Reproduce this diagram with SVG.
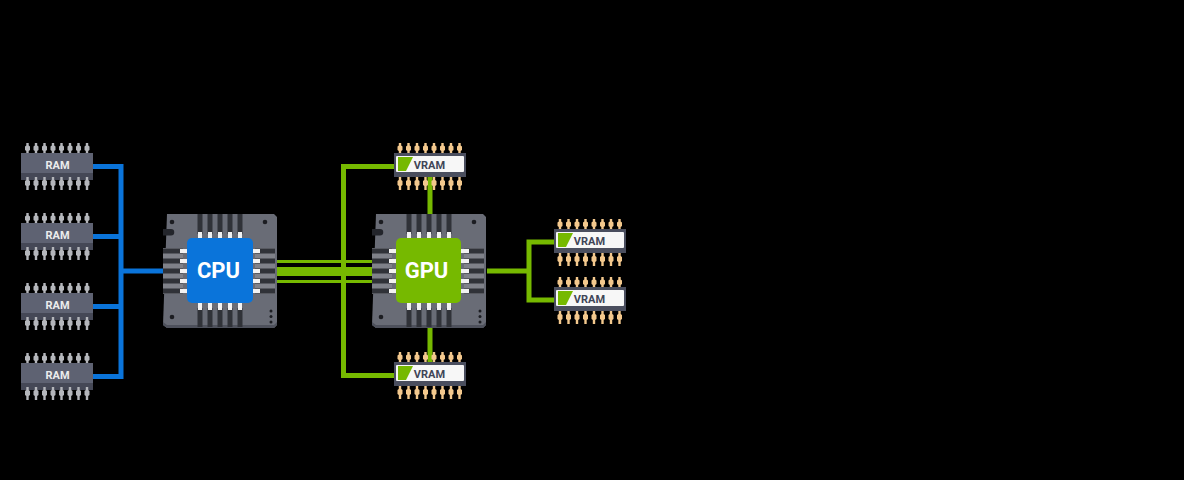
<svg xmlns="http://www.w3.org/2000/svg" width="1184" height="480" viewBox="0 0 1184 480">
  <style>
    .label { font-family: "Roboto", "Noto Sans", "Liberation Sans", sans-serif; text-anchor: middle; font-weight: 700; }
    .ram-label { font-size: 11px; fill: #eceded; }
    .vram-label { font-size: 11px; fill: #3f4557; }
    .chip-label { font-size: 22px; fill: #ffffff; }
    .blue { stroke: #0a74da; fill: none; stroke-width: 5; }
    .green { stroke: #76b900; fill: none; stroke-width: 5; }
    .trace { fill: #303238; }
    .pad { fill: #f2f2f2; }
    .strip { fill: #7f8189; }
  </style>
  <defs>
    <path id="pin-top" d="M-1.200 0h2.400v2.500l1.300 1v3.500l-1.300 1v2h-2.400v-2l-1.300-1v-3.500l1.300-1z"/>
    <path id="pin-bottom" d="M-1.200 0h2.400v3l1.300 1v4l-1.300 1v4h-2.400v-4l-1.300-1v-4l1.300-1z"/>
    <g id="pins-upper">
      <use href="#pin-top" x="0"/><use href="#pin-top" x="8.500"/><use href="#pin-top" x="17"/><use href="#pin-top" x="25.500"/>
      <use href="#pin-top" x="34"/><use href="#pin-top" x="42.500"/><use href="#pin-top" x="51"/><use href="#pin-top" x="59.500"/>
    </g>
    <g id="pins-lower">
      <use href="#pin-bottom" x="0"/><use href="#pin-bottom" x="8.500"/><use href="#pin-bottom" x="17"/><use href="#pin-bottom" x="25.500"/>
      <use href="#pin-bottom" x="34"/><use href="#pin-bottom" x="42.500"/><use href="#pin-bottom" x="51"/><use href="#pin-bottom" x="59.500"/>
    </g>

    <!-- Memory packages: origin at the top-left corner of the body -->
    <g id="ram">
      <use href="#pins-upper" x="6.500" y="-10" fill="#b4b6bb"/>
      <rect x="0" y="0" width="72" height="27" fill="#5e6272"/>
      <rect x="0" y="20" width="72" height="7" fill="#454856"/>
      <use href="#pins-lower" x="6.500" y="24" fill="#b4b6bb"/>
    </g>
    <g id="vram">
      <use href="#pins-upper" x="6" y="-10" fill="#f3c88d"/>
      <rect x="0" y="0" width="72" height="24" fill="#4a4e5e"/>
      <rect x="2" y="3" width="68" height="16" rx="1" fill="#f7f7f7"/>
      <path d="M4 4h15l-7 14h-8z" fill="#76b900"/>
      <use href="#pins-lower" x="6" y="24" fill="#f3c88d"/>
    </g>

    <!-- Processor carrier with traces, pads and mounting holes; origin at board top-left -->
    <g id="carrier">
      <path d="M4 0h107l3 3v108l-3 3h-107l-4-3z" fill="#696c76"/>
      <path d="M0 111v-3l4 3h107l3-3v3l-3 3h-107z" fill="#4e515c"/>
      <path d="M0 15h8a3 3 0 0 1 0 6.500h-8z" fill="#23252b"/>
      <circle cx="9" cy="8" r="2.300" fill="#1c1d22"/>
      <circle cx="102" cy="8" r="2.300" fill="#1c1d22"/>
      <circle cx="9" cy="103" r="2.300" fill="#1c1d22"/>
      <circle cx="108" cy="97" r="1.500" fill="#1c1d22"/>
      <circle cx="108" cy="102.500" r="1.500" fill="#1c1d22"/>
      <circle cx="108" cy="108" r="1.500" fill="#1c1d22"/>
      <rect class="strip" x="0" y="34" width="20" height="46"/>
      <rect class="strip" x="92" y="34" width="20" height="46"/>
      <rect class="trace" x="34.500" y="0" width="5" height="20"/><rect class="trace" x="44.500" y="0" width="5" height="20"/><rect class="trace" x="54.500" y="0" width="5" height="20"/><rect class="trace" x="64.500" y="0" width="5" height="20"/><rect class="trace" x="74.500" y="0" width="5" height="20"/>
      <rect class="trace" x="34.500" y="94" width="5" height="19"/><rect class="trace" x="44.500" y="94" width="5" height="19"/><rect class="trace" x="54.500" y="94" width="5" height="19"/><rect class="trace" x="64.500" y="94" width="5" height="19"/><rect class="trace" x="74.500" y="94" width="5" height="19"/>
      <rect class="trace" x="0" y="34.500" width="20" height="5"/><rect class="trace" x="0" y="44.500" width="20" height="5"/><rect class="trace" x="0" y="54.500" width="20" height="5"/><rect class="trace" x="0" y="64.500" width="20" height="5"/><rect class="trace" x="0" y="74.500" width="20" height="5"/>
      <rect class="trace" x="92" y="34.500" width="20" height="5"/><rect class="trace" x="92" y="44.500" width="20" height="5"/><rect class="trace" x="92" y="54.500" width="20" height="5"/><rect class="trace" x="92" y="64.500" width="20" height="5"/><rect class="trace" x="92" y="74.500" width="20" height="5"/>
      <rect class="pad" x="35" y="18" width="4" height="8"/><rect class="pad" x="45" y="18" width="4" height="8"/><rect class="pad" x="55" y="18" width="4" height="8"/><rect class="pad" x="65" y="18" width="4" height="8"/><rect class="pad" x="75" y="18" width="4" height="8"/>
      <rect class="pad" x="35" y="88" width="4" height="8"/><rect class="pad" x="45" y="88" width="4" height="8"/><rect class="pad" x="55" y="88" width="4" height="8"/><rect class="pad" x="65" y="88" width="4" height="8"/><rect class="pad" x="75" y="88" width="4" height="8"/>
      <rect class="pad" x="17" y="35" width="8" height="4"/><rect class="pad" x="17" y="45" width="8" height="4"/><rect class="pad" x="17" y="55" width="8" height="4"/><rect class="pad" x="17" y="65" width="8" height="4"/><rect class="pad" x="17" y="75" width="8" height="4"/>
      <rect class="pad" x="89" y="35" width="8" height="4"/><rect class="pad" x="89" y="45" width="8" height="4"/><rect class="pad" x="89" y="55" width="8" height="4"/><rect class="pad" x="89" y="65" width="8" height="4"/><rect class="pad" x="89" y="75" width="8" height="4"/>
    </g>
  </defs>

  <rect width="1184" height="480" fill="#000000"/>

  <g id="connectors">
    <path class="blue" d="M93 166.500H121V376.500H93M93 236.500H121M93 306.500H121M121 271H163"/>
    <path class="green" d="M394 166.500H343.500V375.500H394"/>
    <path class="green" d="M430 177V214M430 328V365"/>
    <path class="green" d="M487 271H529M555 242H529V300H555"/>
    <g fill="#76b900">
      <rect x="277" y="260" width="64" height="3"/>
      <rect x="346" y="260" width="26" height="3"/>
      <rect x="277" y="267" width="95" height="9"/>
      <rect x="277" y="280" width="64" height="3"/>
      <rect x="346" y="280" width="26" height="3"/>
    </g>
  </g>

  <g id="ram-1"><use href="#ram" x="21" y="153"/><text class="label ram-label" x="57.500" y="169">RAM</text></g>
  <g id="ram-2"><use href="#ram" x="21" y="223"/><text class="label ram-label" x="57.500" y="239">RAM</text></g>
  <g id="ram-3"><use href="#ram" x="21" y="293"/><text class="label ram-label" x="57.500" y="309">RAM</text></g>
  <g id="ram-4"><use href="#ram" x="21" y="363"/><text class="label ram-label" x="57.500" y="379">RAM</text></g>

  <g id="cpu">
    <use href="#carrier" x="163" y="214"/>
    <rect x="187" y="238" width="66" height="65" rx="5" fill="#0a74da"/>
    <text class="label chip-label" x="218.500" y="278">CPU</text>
  </g>

  <g id="gpu">
    <use href="#carrier" x="372" y="214"/>
    <rect x="396" y="238" width="65" height="65" rx="5" fill="#76b900"/>
    <text class="label chip-label" x="426.500" y="278">GPU</text>
  </g>

  <g id="vram-top"><use href="#vram" x="394" y="153"/><text class="label vram-label" x="429.500" y="168.500">VRAM</text></g>
  <g id="vram-bottom"><use href="#vram" x="394" y="362"/><text class="label vram-label" x="429.500" y="377.500">VRAM</text></g>
  <g id="vram-right-1"><use href="#vram" x="554" y="229"/><text class="label vram-label" x="589.500" y="244.500">VRAM</text></g>
  <g id="vram-right-2"><use href="#vram" x="554" y="287"/><text class="label vram-label" x="589.500" y="302.500">VRAM</text></g>
</svg>
